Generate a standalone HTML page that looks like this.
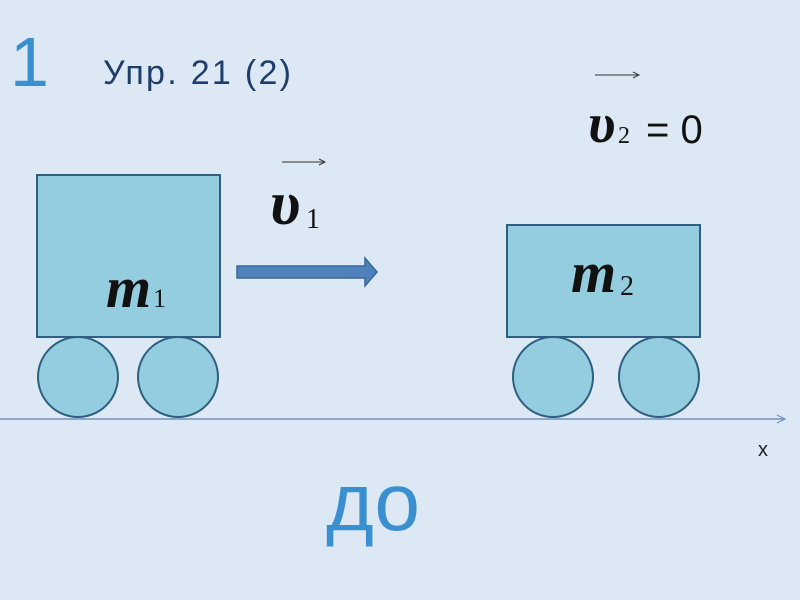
<!DOCTYPE html>
<html><head><meta charset="utf-8"><style>
body{margin:0;width:800px;height:600px;overflow:hidden;background:#dce9f4;}
svg{display:block}
</style></head><body>
<svg width="800" height="600" viewBox="0 0 800 600" xmlns="http://www.w3.org/2000/svg">
<rect width="800" height="600" fill="#dce9f4"/>
<g fill="#93cddf" stroke="#2f5f80" stroke-width="2">
<rect x="37" y="175" width="183" height="162"/>
<circle cx="78" cy="377" r="40"/>
<circle cx="178" cy="377" r="40"/>
<rect x="507" y="225" width="193" height="112"/>
<circle cx="553" cy="377" r="40"/>
<circle cx="659" cy="377" r="40"/>
</g>
<path d="M237 266 H365 V258 L377 272 L365 286 V278 H237 Z" fill="#4f81bd" stroke="#3a6598" stroke-width="1.5"/>
<line x1="0" y1="419" x2="785" y2="419" stroke="#7191b8" stroke-width="1.5"/>
<path d="M777 415 L785 419 L777 423" fill="none" stroke="#7191b8" stroke-width="1.2"/>
<text x="758" y="456" font-family="Liberation Sans, sans-serif" font-size="20" fill="#222">x</text>
<text x="10" y="86" font-family="Liberation Sans, sans-serif" font-size="70" fill="#3a8fd0">1</text>
<text x="103" y="84" font-family="Liberation Sans, sans-serif" font-size="34" textLength="188" fill="#1f3d6b">Упр. 21 (2)</text>
<text x="326" y="530" font-family="Liberation Sans, sans-serif" font-size="82" textLength="94" fill="#3a8fd0">до</text>
<text x="106" y="307" font-family="Liberation Serif, serif" font-size="58" font-style="italic" font-weight="bold" fill="#111">m</text>
<text x="153" y="307" font-family="Liberation Serif, serif" font-size="26" fill="#111">1</text>
<text x="571" y="292" font-family="Liberation Serif, serif" font-size="58" font-style="italic" font-weight="bold" fill="#111">m</text>
<text x="620" y="295" font-family="Liberation Serif, serif" font-size="28" fill="#111">2</text>
<line x1="282" y1="162" x2="324" y2="162" stroke="#333" stroke-width="1"/>
<path d="M319 159 L325 162 L319 165" fill="none" stroke="#333"/>
<text x="270" y="224" font-family="Liberation Serif, serif" font-size="62" font-style="italic" font-weight="bold" fill="#111">υ</text>
<text x="306" y="228" font-family="Liberation Serif, serif" font-size="28" fill="#111">1</text>
<line x1="595" y1="75" x2="638" y2="75" stroke="#333" stroke-width="1"/>
<path d="M633 72 L639 75 L633 78" fill="none" stroke="#333"/>
<text x="588" y="142" font-family="Liberation Serif, serif" font-size="56" font-style="italic" font-weight="bold" fill="#111">υ</text>
<text x="618" y="143" font-family="Liberation Serif, serif" font-size="24" fill="#111">2</text>
<text x="646" y="143" font-family="Liberation Sans, sans-serif" font-size="40" fill="#111">= 0</text>
</svg>
</body></html>
